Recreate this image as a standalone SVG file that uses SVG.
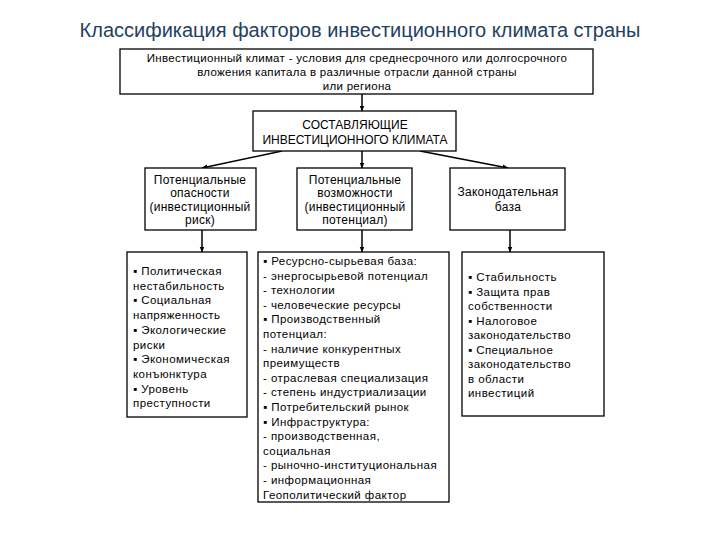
<svg xmlns="http://www.w3.org/2000/svg" width="720" height="540" viewBox="0 0 720 540">
<defs>
<marker id="ah" viewBox="0 0 10 10" refX="9" refY="5" markerWidth="6" markerHeight="6" orient="auto" markerUnits="userSpaceOnUse">
<path d="M0,1 L10,5 L0,9 Z" fill="#000"/>
</marker>
<style>
.box{fill:#fff;stroke:#000;stroke-width:1.3}
.t{font-family:"Liberation Sans",Arial,sans-serif;font-size:11.5px;letter-spacing:0.45px;fill:#000}
.c{text-anchor:middle}
.d{font-size:11.5px;letter-spacing:0.3px}
.h{font-size:12px;letter-spacing:0}
.m{font-size:12px;letter-spacing:0.25px}
.title{font-family:"Liberation Sans",Arial,sans-serif;font-size:20px;fill:#243f60;text-anchor:middle}
.ln{stroke:#000;stroke-width:1.5;fill:none;marker-end:url(#ah)}
</style>
</defs>
<rect width="720" height="540" fill="#fff"/>
<text class="title" x="360" y="37">Классификация факторов инвестиционного климата страны</text>

<g id="connectors">
<line class="ln" x1="362" y1="94" x2="362" y2="111"/>
<line class="ln" x1="282" y1="151" x2="202" y2="168"/>
<line class="ln" x1="362" y1="151" x2="362" y2="168"/>
<line class="ln" x1="420" y1="151" x2="508" y2="168"/>
<line class="ln" x1="202" y1="230" x2="202" y2="252"/>
<line class="ln" x1="362" y1="230" x2="362" y2="252"/>
<line class="ln" x1="510" y1="230" x2="510" y2="252"/>
</g>

<g id="definition">
<rect class="box" x="120" y="49" width="473" height="45"/>
<text class="t c d" x="357" y="62">Инвестиционный климат - условия для среднесрочного или долгосрочного</text>
<text class="t c d" x="357" y="76">вложения капитала в различные отрасли данной страны</text>
<text class="t c d" x="357" y="90">или региона</text>
</g>

<g id="components">
<rect class="box" x="253" y="111" width="203" height="40"/>
<text class="t c h" x="355" y="129">СОСТАВЛЯЮЩИЕ</text>
<text class="t c h" x="355" y="144">ИНВЕСТИЦИОННОГО КЛИМАТА</text>
</g>

<g id="risk">
<rect class="box" x="145" y="168" width="111" height="62"/>
<text class="t c m" x="200" y="184">Потенциальные</text>
<text class="t c m" x="200" y="197">опасности</text>
<text class="t c m" x="200" y="211">(инвестиционный</text>
<text class="t c m" x="200" y="224">риск)</text>
</g>

<g id="potential">
<rect class="box" x="297" y="168" width="115" height="62"/>
<text class="t c m" x="355" y="184">Потенциальные</text>
<text class="t c m" x="355" y="197">возможности</text>
<text class="t c m" x="355" y="211">(инвестиционный</text>
<text class="t c m" x="355" y="224">потенциал)</text>
</g>

<g id="law">
<rect class="box" x="450" y="168" width="115" height="62"/>
<text class="t c m" x="508" y="196">Законодательная</text>
<text class="t c m" x="508" y="211">база</text>
</g>

<g id="risk-list">
<rect class="box" x="127" y="252" width="120" height="165"/>
<text class="t" x="133" y="275">▪ Политическая</text>
<text class="t" x="133" y="289.7">нестабильность</text>
<text class="t" x="133" y="304.4">▪ Социальная</text>
<text class="t" x="133" y="319.1">напряженность</text>
<text class="t" x="133" y="333.8">▪ Экологические</text>
<text class="t" x="133" y="348.5">риски</text>
<text class="t" x="133" y="363.2">▪ Экономическая</text>
<text class="t" x="133" y="377.9">конъюнктура</text>
<text class="t" x="133" y="392.6">▪ Уровень</text>
<text class="t" x="133" y="407.3">преступности</text>
</g>

<g id="potential-list">
<rect class="box" x="258" y="252" width="191" height="250"/>
<text class="t" x="263" y="265">▪ Ресурсно-сырьевая база:</text>
<text class="t" x="263" y="279.6">-  энергосырьевой потенциал</text>
<text class="t" x="263" y="294.2">-  технологии</text>
<text class="t" x="263" y="308.8">-  человеческие ресурсы</text>
<text class="t" x="263" y="323.4">▪ Производственный</text>
<text class="t" x="263" y="338">потенциал:</text>
<text class="t" x="263" y="352.6">-  наличие конкурентных</text>
<text class="t" x="263" y="367.2">преимуществ</text>
<text class="t" x="263" y="381.8">-  отраслевая специализация</text>
<text class="t" x="263" y="396.4">-  степень индустриализации</text>
<text class="t" x="263" y="411">▪ Потребительский рынок</text>
<text class="t" x="263" y="425.6">▪ Инфраструктура:</text>
<text class="t" x="263" y="440.2">-  производственная,</text>
<text class="t" x="263" y="454.8">социальная</text>
<text class="t" x="263" y="469.4">-  рыночно-институциональная</text>
<text class="t" x="263" y="484">-  информационная</text>
<text class="t" x="263" y="498.6">Геополитический фактор</text>
</g>

<g id="law-list">
<rect class="box" x="462" y="252" width="142" height="164"/>
<text class="t" x="468" y="281">▪ Стабильность</text>
<text class="t" x="468" y="295.5">▪ Защита прав</text>
<text class="t" x="468" y="310">собственности</text>
<text class="t" x="468" y="324.5">▪ Налоговое</text>
<text class="t" x="468" y="339">законодательство</text>
<text class="t" x="468" y="353.5">▪ Специальное</text>
<text class="t" x="468" y="368">законодательство</text>
<text class="t" x="468" y="382.5">в области</text>
<text class="t" x="468" y="397">инвестиций</text>
</g>
</svg>
